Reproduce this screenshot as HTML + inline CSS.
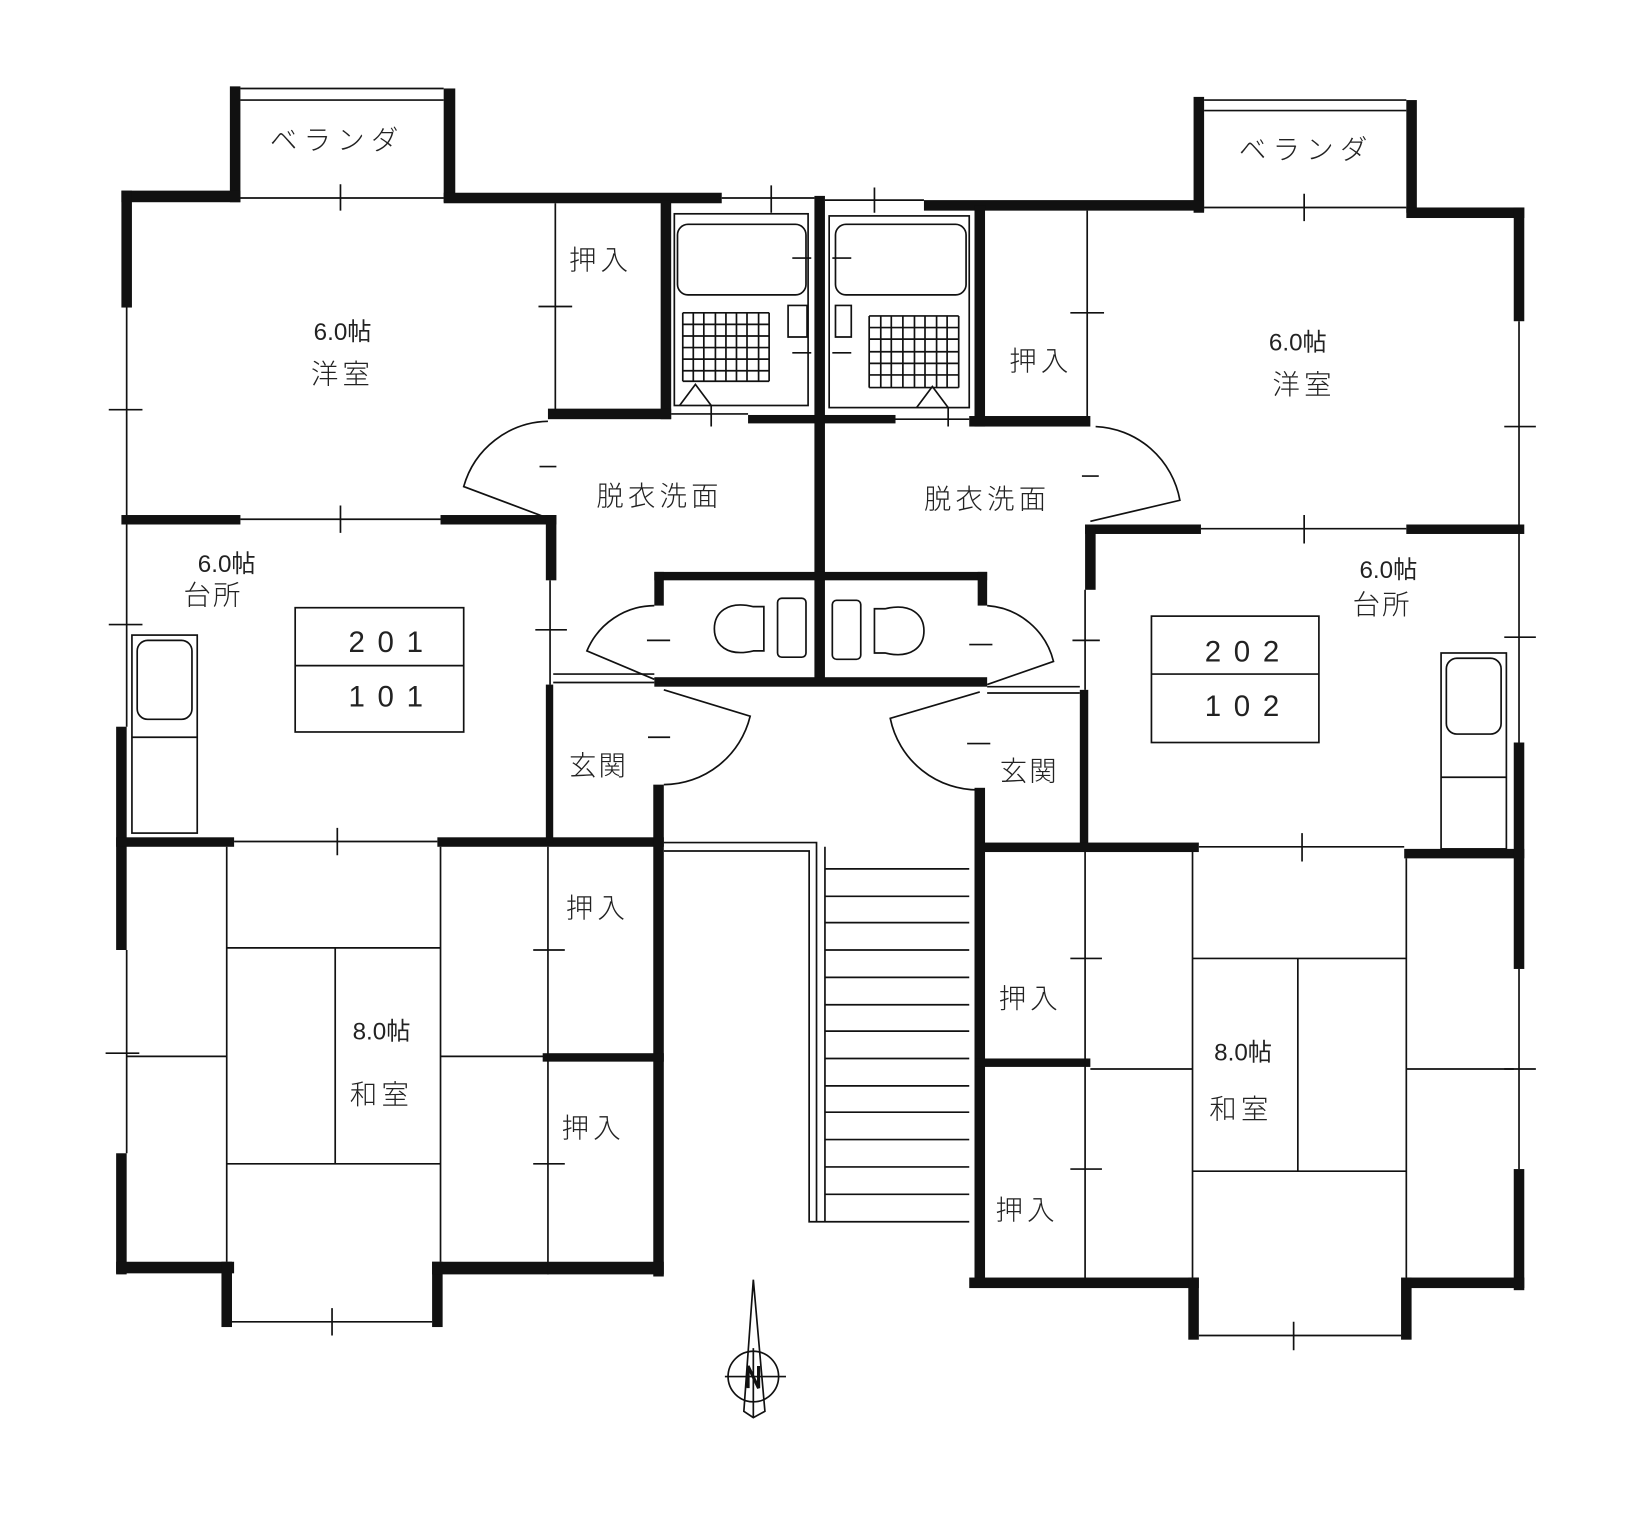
<!DOCTYPE html>
<html><head><meta charset="utf-8"><style>
html,body{margin:0;padding:0;background:#fff;}
svg{display:block}
.t{font-family:"Liberation Sans","Noto Sans CJK JP",sans-serif;fill:#222;font-weight:300}
.n{font-family:"Liberation Sans Narrow","Liberation Sans","Noto Sans CJK JP",sans-serif;fill:#222}
</style></head><body>
<svg width="1652" height="1524" viewBox="0 0 1568 1447" xmlns="http://www.w3.org/2000/svg">
<rect width="1568" height="1447" fill="#fff"/>
<g fill="#111">
<!-- left unit walls -->
<rect x="218" y="82" width="10" height="110"/>
<rect x="421" y="84" width="11" height="108"/>
<rect x="115" y="181" width="113" height="11"/>
<rect x="421" y="183" width="264" height="10"/>
<rect x="115" y="181" width="10" height="111"/>
<rect x="627" y="190" width="10" height="208"/>
<rect x="520" y="388" width="117" height="10"/>
<rect x="710" y="394" width="140" height="8"/>
<rect x="773" y="186" width="10" height="464"/>
<rect x="115" y="489" width="113" height="9"/>
<rect x="418" y="489" width="110" height="9"/>
<rect x="518" y="489" width="10" height="62"/>
<rect x="110" y="690" width="10" height="212"/>
<rect x="110" y="795" width="112" height="9"/>
<rect x="415" y="795" width="215" height="9"/>
<rect x="518" y="650" width="7" height="150"/>
<rect x="620" y="745" width="10" height="467"/>
<rect x="515" y="1000" width="115" height="8"/>
<rect x="110" y="1095" width="10" height="115"/>
<rect x="110" y="1198" width="112" height="11"/>
<rect x="210" y="1198" width="10" height="62"/>
<rect x="410" y="1198" width="10" height="62"/>
<rect x="410" y="1198" width="220" height="12"/>
<!-- toilet block -->
<rect x="621" y="543" width="316" height="8"/>
<rect x="621" y="543" width="9" height="32"/>
<rect x="928" y="543" width="9" height="32"/>
<rect x="621" y="643" width="316" height="9"/>
<!-- right unit walls -->
<rect x="1133" y="92" width="10" height="110"/>
<rect x="1335" y="95" width="10" height="107"/>
<rect x="877" y="190" width="266" height="10"/>
<rect x="1335" y="197" width="112" height="10"/>
<rect x="1437" y="197" width="10" height="108"/>
<rect x="925" y="195" width="10" height="210"/>
<rect x="920" y="395" width="115" height="10"/>
<rect x="1030" y="498" width="110" height="9"/>
<rect x="1030" y="498" width="10" height="62"/>
<rect x="1335" y="498" width="112" height="9"/>
<rect x="1025" y="655" width="8" height="150"/>
<rect x="925" y="748" width="10" height="467"/>
<rect x="930" y="800" width="208" height="9"/>
<rect x="1333" y="806" width="114" height="9"/>
<rect x="1437" y="705" width="10" height="215"/>
<rect x="925" y="1005" width="110" height="8"/>
<rect x="1437" y="1110" width="10" height="115"/>
<rect x="920" y="1213" width="218" height="10"/>
<rect x="1128" y="1213" width="10" height="59"/>
<rect x="1330" y="1213" width="10" height="59"/>
<rect x="1335" y="1213" width="112" height="10"/>
</g>
<g stroke="#111" stroke-width="1.6" fill="none">
<!-- verandas -->
<path d="M228 84H421M228 95H421M1143 95H1335M1143 105H1335"/>
<!-- dimension lines -->
<path d="M228 188H421M323 175V200"/>
<path d="M685 188H773M732 176V202M783 190H877M830 178V202"/>
<path d="M1143 197H1335M1238 184V210"/>
<path d="M120 292V490M103 389H135"/>
<path d="M527 193V390M511 291H543"/>
<path d="M1032 200V398M1016 297H1048"/>
<path d="M1442 305V500M1428 405H1458"/>
<path d="M228 493H418M323 480V506"/>
<path d="M1140 502H1335M1238 489V516"/>
<path d="M120 498V690M103 593H135"/>
<path d="M1442 507V705M1428 605H1458"/>
<path d="M522 551V650M508 598H538"/>
<path d="M1030 560V655M1018 608H1044"/>
<path d="M222 799H415M320 786V812"/>
<path d="M1138 804H1333M1236 791V818"/>
<path d="M120 902V1095M100 1000H132"/>
<path d="M1442 920V1110M1428 1015H1458"/>
<path d="M520 804V1210M506 902H536M506 1105H536"/>
<path d="M1030 809V1215M1016 910H1046M1016 1110H1046"/>
<path d="M220 1255H410M315 1242V1268"/>
<path d="M1138 1268H1330M1228 1255V1282"/>
<!-- bath bottom thin -->
<path d="M637 393H710M850 398H920"/>
<!-- bath -->
<rect x="640" y="203" width="127" height="182"/>
<rect x="787" y="205" width="133" height="182"/>
<rect x="643" y="213" width="122" height="67" rx="10"/>
<rect x="793" y="213" width="124" height="67" rx="10"/>
<path d="M645 385L660 365L675 385M675 385V405M900 387L885 367L870 387M900 387V405"/>
<path d="M748 290h18v30h-18zM793 290h15v30h-15z"/>
<path d="M752 245h18M790 245h18M752 335h18M790 335h18"/>
<!-- doors 脱衣 -->
<path d="M520 400A85 85 0 0 0 440 462L520 492"/>
<path d="M1040 405A85 85 0 0 1 1120 475L1035 495"/>
<!-- toilet doors -->
<path d="M621 575A70 70 0 0 0 557 618L621 645"/>
<path d="M937 575A70 70 0 0 1 1000 628L937 650"/>
<path d="M525 640H621M937 652H1025M525 648H621M937 658H1025"/>
<!-- toilets -->
<path d="M715 576C690 570 678 582 678 597C678 612 690 624 715 618L725 618V576Z"/>
<rect x="738" y="568" width="27" height="56" rx="4"/>
<path d="M840 578C865 572 877 584 877 599C877 614 865 626 840 620L830 620V578Z"/>
<rect x="790" y="570" width="27" height="56" rx="4"/>
<!-- genkan doors -->
<path d="M630 655L712 680A85 85 0 0 1 630 745"/>
<path d="M930 657L845 682A85 85 0 0 0 930 750"/>
<!-- kitchen boxes -->
<rect x="280" y="577" width="160" height="118"/>
<path d="M280 632H440"/>
<rect x="1093" y="585" width="159" height="120"/>
<path d="M1093 640H1252"/>
<!-- sinks -->
<rect x="125" y="603" width="62" height="188"/>
<rect x="130" y="608" width="52" height="75" rx="10"/>
<path d="M125 700H187"/>
<rect x="1368" y="620" width="62" height="186"/>
<rect x="1373" y="625" width="52" height="72" rx="10"/>
<path d="M1368 738H1430"/>
<!-- tatami left -->
<path d="M215 804V1198M418 804V1198M215 900H418M318 900V1105M215 1105H418M120 1003H215M418 1003H520"/>
<!-- tatami right -->
<path d="M1132 809V1213M1335 815V1213M1132 910H1335M1232 910V1112M1132 1112H1335M1035 1015H1132M1335 1015H1437"/>
<!-- stairs -->
<path d="M630 800H775V1160H768M630 808H768V1160H920"/>
<path d="M783 804V1160"/>
<!-- compass -->
<circle cx="715" cy="1307" r="24"/>
<path d="M688 1307H746M715 1280V1345M715 1215L706 1340L715 1346L726 1340Z"/>
<path d="M710 1318V1297L720 1318V1297" stroke-width="3"/>
</g>
<g stroke="#111" stroke-width="1.6">
<path d="M783 825H920M783 851H920M783 876H920M783 902H920M783 928H920M783 954H920M783 979H920M783 1005H920M783 1031H920M783 1056H920M783 1082H920M783 1108H920M783 1134H920"/>
<!-- grids -->
<path d="M648 297H730M648 308H730M648 319H730M648 330H730M648 341H730M648 352H730M648 362H730
M648 297V362M658 297V362M668 297V362M679 297V362M689 297V362M699 297V362M709 297V362M720 297V362M730 297V362"/>
<path d="M825 300H910M825 311H910M825 322H910M825 334H910M825 345H910M825 356H910M825 368H910
M825 300V368M836 300V368M846 300V368M857 300V368M868 300V368M878 300V368M889 300V368M899 300V368M910 300V368"/>
<!-- dashes -->
<path d="M512 443H528M1027 452H1043M614 608H636M920 612H942M615 700H636M918 706H940"/>
</g>
<g class="t" font-size="26" text-anchor="middle">
<text x="320" y="142" letter-spacing="6">ベランダ</text>
<text x="1240" y="151" letter-spacing="6">ベランダ</text>
<text x="570" y="256" letter-spacing="4">押入</text>
<text x="988" y="352" letter-spacing="4">押入</text>
<text x="325" y="364" letter-spacing="4">洋室</text>
<text x="1238" y="374" letter-spacing="4">洋室</text>
<text x="626" y="480" letter-spacing="4">脱衣洗面</text>
<text x="937" y="483" letter-spacing="4">脱衣洗面</text>
<text x="202" y="574" letter-spacing="2">台所</text>
<text x="1312" y="583" letter-spacing="2">台所</text>
<text x="568" y="736" letter-spacing="2">玄関</text>
<text x="977" y="741" letter-spacing="2">玄関</text>
<text x="567" y="871" letter-spacing="4">押入</text>
<text x="563" y="1080" letter-spacing="4">押入</text>
<text x="978" y="957" letter-spacing="4">押入</text>
<text x="975" y="1158" letter-spacing="4">押入</text>
<text x="362" y="1048" letter-spacing="4">和室</text>
<text x="1178" y="1062" letter-spacing="4">和室</text>
</g>
<g class="n" font-size="23" text-anchor="middle">
<text x="325" y="323">6.0帖</text>
<text x="1232" y="333">6.0帖</text>
<text x="215" y="543">6.0帖</text>
<text x="1318" y="549">6.0帖</text>
<text x="362" y="987">8.0帖</text>
<text x="1180" y="1007">8.0帖</text>
</g>
<g class="t" font-size="28" text-anchor="middle" letter-spacing="12">
<text x="372" y="619">201</text>
<text x="372" y="671">101</text>
<text x="1185" y="628">202</text>
<text x="1185" y="680">102</text>
</g>
</svg>
</body></html>
